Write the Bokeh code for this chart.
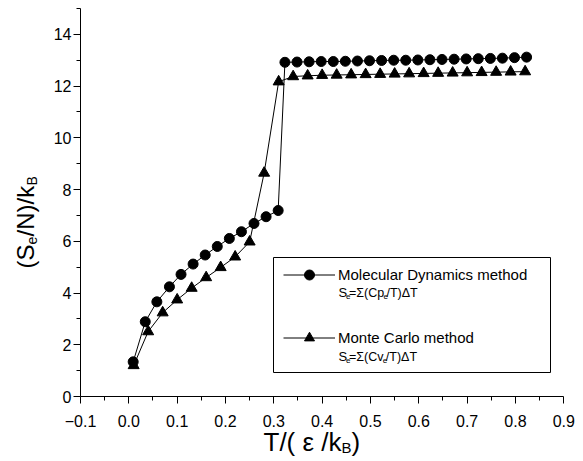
import math

from bokeh.plotting import figure
from bokeh.models import (Range1d, FixedTicker, CustomJSTickFormatter, Legend,
                          LegendItem, Label, BoxAnnotation)
from bokeh.embed import file_html
from bokeh.resources import INLINE

# Molecular dynamics: S_e = sum(Cp_e / T) dT
md_T = [0.009, 0.034, 0.058, 0.084, 0.108, 0.133, 0.158, 0.183, 0.208, 0.233,
        0.259, 0.284, 0.309,
        0.323, 0.348, 0.373, 0.398, 0.423, 0.448, 0.473, 0.498, 0.523, 0.548,
        0.573, 0.598, 0.623, 0.648, 0.673, 0.698, 0.723, 0.748, 0.773, 0.798,
        0.823]
md_S = [1.34, 2.89, 3.66, 4.24, 4.72, 5.12, 5.47, 5.80, 6.11, 6.37,
        6.69, 6.95, 7.19,
        12.92, 12.93, 12.94, 12.95, 12.95, 12.96, 12.97, 12.98, 12.99, 13.00,
        13.00, 13.01, 13.02, 13.03, 13.04, 13.05, 13.06, 13.07, 13.08, 13.10,
        13.12]

# Monte Carlo: S_e = sum(Cv_e / T) dT
mc_T = [0.01, 0.04, 0.07, 0.10, 0.13, 0.16, 0.19, 0.22, 0.25, 0.28,
        0.31, 0.34, 0.37, 0.40, 0.43, 0.46, 0.49, 0.52, 0.55, 0.58,
        0.61, 0.64, 0.67, 0.70, 0.73, 0.76, 0.79, 0.82]
mc_S = [1.20, 2.51, 3.24, 3.74, 4.19, 4.60, 4.99, 5.40, 5.98, 8.64,
        12.17, 12.37, 12.40, 12.42, 12.43, 12.44, 12.45, 12.46, 12.47, 12.48,
        12.49, 12.50, 12.51, 12.52, 12.53, 12.54, 12.55, 12.56]

x_lim = (-0.1, 0.9)
y_lim = (0, 15)
x_ticks = [-0.1, 0.0, 0.1, 0.2, 0.3, 0.4, 0.5, 0.6, 0.7, 0.8, 0.9]
x_minor = [-0.05, 0.05, 0.15, 0.25, 0.35, 0.45, 0.55, 0.65, 0.75, 0.85]
y_ticks = [0, 2, 4, 6, 8, 10, 12, 14]
y_minor = [1, 3, 5, 7, 9, 11, 13, 15]

md_label = "Molecular Dynamics method"
mc_label = "Monte Carlo method"

# page layout (pixels): the axes box sits inside a canvas-wide frame so
# that titles and notes placed around it are drawn too
W, H = 583, 461
AX_L, AX_R, AX_T, AX_B = 80, 563.3, 8, 396

sx = (x_lim[1] - x_lim[0]) / (AX_R - AX_L)
sy = (y_lim[1] - y_lim[0]) / (AX_B - AX_T)
x_range = Range1d(x_lim[0] - AX_L * sx, x_lim[1] + (W - AX_R) * sx)
y_range = Range1d(y_lim[0] - (H - AX_B) * sy, y_lim[1] + AX_T * sy)

TEXT_FONT = "Liberation Sans"

p = figure(width=W, height=H, x_range=x_range, y_range=y_range,
           output_backend="svg", toolbar_location=None, title=None,
           min_border=0)
p.outline_line_color = None
p.grid.visible = False
p.background_fill_color = "white"
p.border_fill_color = "white"

md_line = p.line(md_T, md_S, line_color="black", line_width=1)
md_pts = p.scatter(md_T, md_S, marker="circle", size=10,
                   fill_color="black", line_color="black")
mc_line = p.line(mc_T, mc_S, line_color="black", line_width=1)
mc_pts = p.scatter(mc_T, mc_S, marker="triangle", size=11,
                   fill_color="black", line_color="black")

# axes, pinned at the data origin of the box
xa = p.xaxis[0]
xa.fixed_location = y_lim[0]
xa.bounds = x_lim
xa.ticker = FixedTicker(ticks=x_ticks, minor_ticks=x_minor)
xa.formatter = CustomJSTickFormatter(code="""
    const s = Math.abs(tick).toFixed(1);
    return tick < -1e-9 ? "\\u2212" + s : s;
""")
ya = p.yaxis[0]
ya.fixed_location = x_lim[0]
ya.bounds = y_lim
ya.ticker = FixedTicker(ticks=y_ticks, minor_ticks=y_minor)
ya.formatter = CustomJSTickFormatter(code="return Math.round(tick).toString();")

for ax in (xa, ya):
    ax.axis_line_color = "black"
    ax.axis_line_width = 1
    ax.major_tick_line_color = "black"
    ax.minor_tick_line_color = "black"
    ax.major_tick_in = 0
    ax.major_tick_out = 7
    ax.minor_tick_in = 0
    ax.minor_tick_out = 4
    ax.major_label_text_font = TEXT_FONT
    ax.major_label_text_font_size = "16px"
    ax.major_label_text_color = "black"
    ax.axis_label = None
xa.major_label_standoff = 11
ya.major_label_standoff = 2


def put(x, y, text, size, font=TEXT_FONT, angle=0.0):
    """Place text at canvas pixel (x, y); baseline-left anchored."""
    p.add_layout(Label(x=x, y=H - y, x_units="screen", y_units="screen",
                       text=text, text_font=font, text_font_size=f"{size}px",
                       text_color="black", angle=angle,
                       text_align="left", text_baseline="alphabetic"))


# axis titles
put(263, 441, "T/( \u03b5 /k", 26)
put(341, 447, "B", 15)
put(351, 441, ")", 26)

up = math.pi / 2
put(25, 268, "(S", 24, angle=up)
put(31, 244, "e", 14, angle=up)
put(25, 236, "/N)/k", 24, angle=up)
put(31, 185, "B", 14, angle=up)

# legend
legend = Legend(items=[LegendItem(label=md_label, renderers=[md_line, md_pts]),
                       LegendItem(label=mc_label, renderers=[mc_line, mc_pts])],
                location=(283, H - 350),
                glyph_width=52, glyph_height=25, label_height=25,
                label_standoff=3, spacing=38, padding=0, margin=0,
                border_line_color=None, background_fill_alpha=0,
                label_text_font=TEXT_FONT, label_text_font_size="15px",
                label_text_color="black")
p.add_layout(legend)

p.add_layout(BoxAnnotation(left=273, right=550, top=H - 257, bottom=H - 372,
                           left_units="screen", right_units="screen",
                           top_units="screen", bottom_units="screen",
                           fill_color=None, line_color="black", line_width=1,
                           line_alpha=1))

# formula lines under each legend entry
for base, head, head_w in ((292, "=\u03a3(Cp", 33.5), (356, "=\u03a3(Cv", 32.8)):
    put(338, base, "S", 13)
    put(345.5, base + 4, "e", 8)
    put(348.5, base, head, 12.5)
    put(348.5 + head_w + 1, base + 4, "e", 8)
    put(352.5 + head_w, base, "/T)\u0394T", 12.5)

open("out.html", "w").write(file_html(p, INLINE))
